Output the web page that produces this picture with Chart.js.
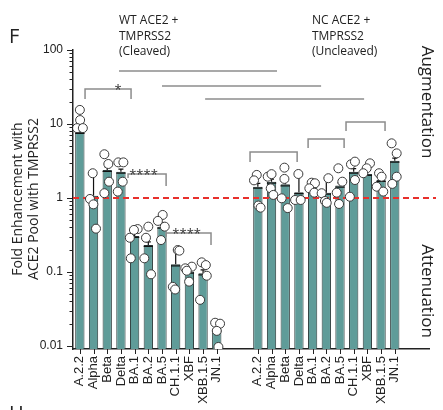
<!DOCTYPE html>
<html><head><meta charset="utf-8">
<script src="https://cdn.jsdelivr.net/npm/chart.js@4/dist/chart.umd.min.js"></script>
<style>html,body{margin:0;padding:0;background:#fff}#wrap{width:443px;height:410px;position:relative}</style>
</head><body><div id="wrap"><canvas id="c" width="443" height="410"></canvas></div>
<script>
// ---------- data ----------
const variants = ['A.2.2','Alpha','Beta','Delta','BA.1','BA.2','BA.5','CH.1.1','XBF','XBB.1.5','JN.1'];
const wtMean  = [7.8, 1.07, 2.39, 2.27, 0.307, 0.232, 0.41, 0.127, 0.101, 0.096, 0.0168];
const ncMean  = [1.42, 1.66, 1.53, 1.2, 1.5, 1.18, 1.47, 2.27, 2.11, 1.75, 3.19];
const wtErrHi = [9.2, 2.16, 2.6, 2.45, 0.34, 0.255, 0.46, 0.2, 0.112, 0.107, 0.019];
const ncErrHi = [1.58, 1.8, 1.75, 2.05, 1.6, 1.85, 1.6, 2.5, 2.3, 1.9, 3.45];
const wtPoints = [
  [15.5, 11.3, 8.8, 8.8],
  [2.16, 0.97, 0.82, 0.385],
  [3.9, 2.88, 1.66, 1.16],
  [3.03, 3.03, 1.66, 1.22],
  [0.38, 0.37, 0.29, 0.153],
  [0.41, 0.29, 0.153, 0.093],
  [0.59, 0.49, 0.41, 0.27],
  [0.198, 0.194, 0.063, 0.058],
  [0.118, 0.112, 0.104, 0.074],
  [0.135, 0.124, 0.089, 0.042],
  [0.0206, 0.02, 0.016, 0.0097]
];
const wtJitter = [
  [0, 0.02, -0.2, 0.22],
  [-0.06, -0.26, -0.01, 0.18],
  [-0.21, 0.08, 0.13, -0.21],
  [-0.19, 0.18, 0.13, -0.23],
  [0.22, -0.05, -0.35, -0.28],
  [0, -0.17, -0.29, 0.2],
  [0.05, -0.3, 0.2, -0.07],
  [0.15, 0.27, -0.21, -0.04],
  [0.18, -0.3, -0.19, -0.02],
  [-0.1, 0.2, 0.27, -0.22],
  [-0.12, 0.24, 0, 0.12]
];
const ncPoints = [
  [2.05, 1.73, 0.79, 0.74],
  [1.94, 2.1, 1.35, 1.1],
  [2.57, 1.81, 0.99, 0.73],
  [2.11, 0.94, 0.94],
  [1.61, 1.58, 1.35, 1.18],
  [1.85, 1.16, 0.91, 0.86],
  [2.52, 1.66, 1.18, 0.83],
  [2.85, 3.1, 1.75, 1.04],
  [2.94, 2.52, 2.16],
  [2.16, 1.94, 1.42, 1.22],
  [5.48, 4.01, 1.94, 1.55]
];
const ncJitter = [
  [-0.08, -0.28, 0.04, 0.2],
  [-0.28, 0.0, -0.06, 0.13],
  [-0.06, -0.06, -0.26, 0.18],
  [-0.04, -0.28, 0.13],
  [-0.07, 0.17, -0.24, 0.12],
  [0.15, -0.34, -0.1, 0.03],
  [-0.12, 0.17, -0.24, -0.07],
  [-0.2, 0.09, 0.09, -0.28],
  [0.19, -0.05, -0.3],
  [-0.15, 0.04, -0.32, 0.16],
  [-0.23, 0.14, 0.14, -0.18]
];
const yTickLabels = [0.01, 0.1, 1, 10, 100];
const baseline = 1;
// significance lines / brackets in data units (category position, fold value)
const sigLines = [
  {from: 2.86, to: 14.40, at: 52},
  {from: 6.0,  to: 17.62, at: 32.6},
  {from: 9.15, to: 20.76, at: 21.8}
];
const sigBrackets = [
  {from: 0.38,  to: 3.74,  at: 29.7,  leftEnd: 21.8, rightEnd: 21.8, label: '*',    labelAt: 2.79},
  {from: 3.52,  to: 6.30,  at: 2.11,  leftEnd: 1.86, rightEnd: 1.45, label: '****', labelAt: 4.65},
  {from: 6.30,  to: 9.58,  at: 0.336, leftEnd: 0.30, rightEnd: 0.232, label: '****', labelAt: 7.8},
  {from: 12.43, to: 15.87, at: 4.19,  leftEnd: 3.07, rightEnd: 3.07},
  {from: 16.67, to: 19.30, at: 6.27,  leftEnd: 4.74, rightEnd: 4.74},
  {from: 19.44, to: 22.29, at: 10.6,  leftEnd: 8.04, rightEnd: 8.04}
];
const groupTitles = [
  {at: 2.86,  lines: ['WT ACE2 +', 'TMPRSS2', '(Cleaved)']},
  {at: 16.95, lines: ['NC ACE2 +', 'TMPRSS2', '(Uncleaved)']}
];

// ---------- build ----------
const GAP = 2, TAIL = 2;
const ncStart = variants.length + GAP;
const labels = [...variants, ...Array(GAP).fill(''), ...variants, ...Array(TAIL).fill('')];
const barData = [
  ...wtMean.map((v, i) => ({x: i, y: v, e: wtErrHi[i]})),
  ...ncMean.map((v, i) => ({x: ncStart + i, y: v, e: ncErrHi[i]}))
];
const scatter = [];
wtPoints.forEach((arr, i) => arr.forEach((v, j) => scatter.push({x: i + wtJitter[i][j], y: v})));
ncPoints.forEach((arr, i) => arr.forEach((v, j) => scatter.push({x: ncStart + i + ncJitter[i][j], y: v})));

const INK = '#222';
const isMajor = v => Math.abs(Math.log10(v) - Math.round(Math.log10(v))) < 1e-6;

const decor = {
  id: 'decor',
  afterDatasetDraw(chart, args) {
    if (args.index !== 0) return;
    const ctx = chart.ctx, y = chart.scales.y, meta = chart.getDatasetMeta(0);
    ctx.save();
    ctx.strokeStyle = '#111'; ctx.lineWidth = 1.2;
    meta.data.forEach((bar, i) => {
      const ye = y.getPixelForValue(barData[i].e);
      ctx.beginPath();
      ctx.moveTo(bar.x, bar.y); ctx.lineTo(bar.x, ye);
      ctx.moveTo(bar.x - 2.5, ye); ctx.lineTo(bar.x + 2.5, ye);
      ctx.moveTo(bar.x - bar.width/2, bar.y + 1.5); ctx.lineTo(bar.x + bar.width/2, bar.y + 1.5);
      ctx.stroke();
    });
    const yb = y.getPixelForValue(baseline);
    ctx.strokeStyle = '#e8302c'; ctx.lineWidth = 2; ctx.setLineDash([6, 4]);
    ctx.beginPath(); ctx.moveTo(chart.chartArea.left, yb); ctx.lineTo(436, yb); ctx.stroke();
    ctx.restore();
  },
  afterDraw(chart) {
    const ctx = chart.ctx, y = chart.scales.y, xs = chart.scales.x, ca = chart.chartArea;
    ctx.save();
    ctx.strokeStyle = INK; ctx.lineWidth = 1;
    // y ticks
    for (let k = -2; k <= 2; k++) {
      for (let m = 1; m <= 9; m++) {
        const v = m * Math.pow(10, k);
        if (v < y.min - 1e-12 || v > y.max * 1.0001) continue;
        const p = Math.round(y.getPixelForValue(v)) + 0.5;
        const len = m === 1 ? 6 : 3.5;
        ctx.beginPath(); ctx.moveTo(ca.left - len, p); ctx.lineTo(ca.left, p); ctx.stroke();
      }
    }
    // x ticks at labelled categories
    xs.ticks.forEach(t => {
      const p = Math.round(xs.getPixelForValue(t.value)) + 0.5;
      ctx.beginPath(); ctx.moveTo(p, ca.bottom); ctx.lineTo(p, ca.bottom + 5); ctx.stroke();
    });
    ctx.strokeStyle = '#8c8c8c'; ctx.lineWidth = 1.5;
    sigLines.forEach(s => {
      const yy = y.getPixelForValue(s.at);
      ctx.beginPath(); ctx.moveTo(xs.getPixelForValue(s.from), yy); ctx.lineTo(xs.getPixelForValue(s.to), yy); ctx.stroke();
    });
    ctx.fillStyle = '#333'; ctx.font = '13px "Open Sans"'; ctx.textAlign = 'center'; ctx.textBaseline = 'alphabetic';
    sigBrackets.forEach(b => {
      const x1 = xs.getPixelForValue(b.from), x2 = xs.getPixelForValue(b.to), yt = y.getPixelForValue(b.at);
      ctx.beginPath();
      ctx.moveTo(x1, y.getPixelForValue(b.leftEnd)); ctx.lineTo(x1, yt); ctx.lineTo(x2, yt); ctx.lineTo(x2, y.getPixelForValue(b.rightEnd));
      ctx.stroke();
      if (b.label) ctx.fillText(b.label, xs.getPixelForValue(b.labelAt), yt + 5);
    });
    ctx.fillStyle = INK; ctx.font = '12px "Open Sans"'; ctx.textAlign = 'left';
    groupTitles.forEach(g => {
      const gx = xs.getPixelForValue(g.at);
      g.lines.forEach((t, i) => ctx.fillText(t, gx, 24 + i * 15.5));
    });
    ctx.font = '20px "Open Sans"';
    ctx.fillText('F', 9, 43);
    ctx.fillText('H', 9, 420);
    ctx.font = '17px "Open Sans"'; ctx.textAlign = 'center';
    [['Augmentation', 102], ['Attenuation', 291]].forEach(([t, cy]) => {
      ctx.save(); ctx.translate(422, cy); ctx.rotate(Math.PI / 2); ctx.fillText(t, 0, 0); ctx.restore();
    });
    ctx.font = '14px "Open Sans"';
    [['Fold Enhancement with', 22], ['ACE2 Pool with TMPRSS2', 38]].forEach(([t, bx]) => {
      ctx.save(); ctx.translate(bx, 199); ctx.rotate(-Math.PI / 2); ctx.fillText(t, 0, 0); ctx.restore();
    });
    ctx.restore();
  }
};

new Chart(document.getElementById('c'), {
  type: 'bar',
  data: {
    datasets: [
      {type: 'bar', data: barData, backgroundColor: '#5f9c99', borderColor: '#2b3a3a', borderWidth: 1,
       barPercentage: 0.68, categoryPercentage: 1, order: 2},
      {type: 'scatter', data: scatter, pointRadius: 4.5,
       backgroundColor: '#ffffff', borderColor: '#3a3a3a', borderWidth: 1, order: 0}
    ]
  },
  options: {
    responsive: false, animation: false, devicePixelRatio: 1,
    layout: {padding: {left: 0, top: 50, right: 14, bottom: 0}},
    plugins: {legend: {display: false}, tooltip: {enabled: false}},
    scales: {
      x: {
        type: 'linear', min: -0.5, max: labels.length - 0.5, offset: false,
        afterBuildTicks: s => { s.ticks = labels.map((l, i) => ({value: i})).filter(t => labels[t.value]); },
        grid: {display: false, drawTicks: false},
        border: {display: true, color: INK, width: 1.5},
        ticks: {autoSkip: false, minRotation: 90, maxRotation: 90, padding: 7, color: INK,
                font: {family: 'Liberation Sans', size: 13},
                callback: v => labels[Math.round(v)] || ''},
        afterFit: s => { s.height = 61; }
      },
      y: {
        type: 'logarithmic', min: 0.0091, max: 100,
        grid: {display: false, drawTicks: false},
        border: {display: true, color: INK, width: 1.5},
        ticks: {autoSkip: false, padding: 10, color: INK, font: {family: 'Liberation Sans', size: 12},
                callback: v => isMajor(v) ? String(yTickLabels.find(t => Math.abs(Math.log10(t) - Math.log10(v)) < 1e-6) ?? '') : ''},
        afterFit: s => { s.width = 73; }
      }
    }
  },
  plugins: [decor]
});
</script>
</body></html>
